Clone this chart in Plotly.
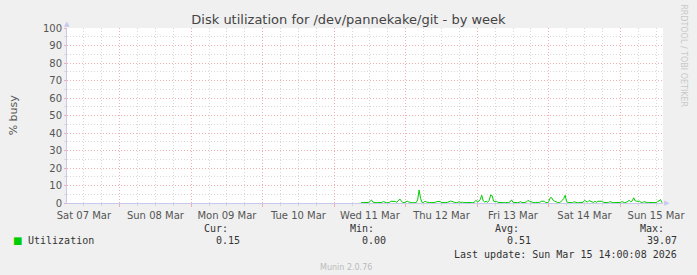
import pandas as pd
import plotly.graph_objects as go

# ---------------- data ----------------
TITLE = "Disk utilization for /dev/pannekake/git - by week"
Y_LABEL = "% busy"
SERIES_NAME = "Utilization"
SERIES_START = "2026-03-11 09:00"   # first known sample (30 min resolution)
STEP = "30min"
utilization = [
    0.2, 0.2, 0.2, 0.3, 0.2, 0.3, 0.9, 1.7, 0.5, 0.2,
    0.2, 0.3, 0.2, 0.2, 0.3, 0.8, 0.3, 0.2, 0.2, 0.3,
    1.0, 1.1, 1.0, 0.9, 0.4, 1.5, 2.3, 1.2, 0.3, 0.2,
    0.4, 1.0, 0.6, 0.3, 0.2, 0.2, 0.3, 0.2, 1.8, 7.4,
    2.5, 0.3, 0.4, 1.0, 0.5, 0.2, 0.3, 0.2, 0.2, 0.3,
    0.4, 0.8, 1.0, 0.9, 0.3, 0.2, 0.3, 0.2, 0.4, 1.0,
    1.1, 0.9, 0.4, 0.3, 0.2, 0.3, 0.7, 0.3, 0.5, 0.2,
    0.3, 0.2, 0.3, 0.2, 0.3, 0.2, 0.4, 1.5, 0.8, 1.0,
    2.0, 4.4, 1.2, 0.6, 1.0, 0.4, 1.5, 4.6, 4.2, 1.0,
    1.0, 0.9, 0.3, 0.2, 0.3, 0.2, 0.2, 0.3, 0.2, 0.3,
    0.6, 1.8, 0.4, 0.2, 0.3, 0.2, 0.3, 0.8, 0.3, 0.2,
    0.3, 0.6, 1.5, 1.0, 0.7, 0.3, 0.2, 0.3, 0.2, 0.3,
    0.4, 1.0, 0.9, 1.0, 0.3, 0.2, 0.8, 3.0, 3.0, 1.5,
    1.0, 0.4, 0.3, 0.2, 0.6, 1.5, 2.5, 4.4, 0.8, 0.3,
    0.2, 0.3, 0.2, 0.7, 0.3, 0.2, 0.2, 0.3, 0.2, 0.4,
    1.5, 1.0, 0.5, 1.4, 1.0, 0.4, 0.3, 1.0, 0.3, 1.0,
    1.1, 0.9, 1.0, 0.3, 0.2, 0.3, 0.2, 0.8, 0.3, 0.2,
    0.3, 0.2, 0.3, 0.2, 0.3, 0.8, 0.3, 0.2, 0.4, 0.9,
    1.5, 0.7, 1.2, 3.0, 1.2, 1.0, 0.9, 1.0, 0.3, 0.2,
    0.8, 0.3, 0.2, 0.3, 0.2, 0.3, 0.2, 0.3, 0.2, 0.9,
    1.2, 2.0, 0.15,
]
X_RANGE = ["2026-03-07 06:20", "2026-03-15 14:20"]
Y_RANGE = [0, 100]
stat_labels = ["Cur:", "Min:", "Avg:", "Max:"]
stat_values = ["0.15", "0.00", "0.51", "39.07"]
LAST_UPDATE = "Last update: Sun Mar 15 14:00:08 2026"
FOOTER = "Munin 2.0.76"
SIDE_TEXT = "RRDTOOL / TOBI OETIKER"

# ---------------- style ----------------
W, H = 697, 275
L, R, T, B = 67, 667, 28, 203
GREEN = "#00CC00"
MAJOR = "#F0B0B0"
MINOR = "#D8D8D8"
AXIS = "#C8C8EE"
TXT = "#555555"
SANS = "DejaVu Sans"
MONO = "DejaVu Sans Mono"


def px(x):
    return (x - L) / (R - L)


def py(y):
    return (B - y) / (B - T)


times = pd.date_range(SERIES_START, periods=len(utilization), freq=STEP)

fig = go.Figure()
fig.add_trace(go.Scatter(x=times, y=utilization, mode="lines", name=SERIES_NAME,
                         line=dict(color=GREEN, width=1), hoverinfo="skip"))

fig.update_layout(
    width=W, height=H,
    margin=dict(l=L, r=W - R, t=T, b=H - B),
    paper_bgcolor="#F0F0F0", plot_bgcolor="#FFFFFF",
    showlegend=False,
    font=dict(family=SANS, size=10, color=TXT),
    title=dict(text=TITLE, x=0.5, xanchor="center", y=1 - 19 / H, yanchor="middle",
               font=dict(family=SANS, size=13, color="#444444")),
)

fig.update_xaxes(
    type="date", range=X_RANGE,
    tick0="2026-03-07", dtick=86400000, ticklabelmode="period",
    tickformat="%a %d %b", tickfont=dict(family=SANS, size=10, color=TXT),
    showgrid=True, gridcolor=MAJOR, griddash="1px,2px", gridwidth=1,
    ticks="outside", ticklen=3, tickcolor=MAJOR,
    minor=dict(dtick=6 * 3600 * 1000, tick0="2026-03-07", showgrid=True,
               gridcolor=MINOR, griddash="1px,2px", gridwidth=1,
               ticks="outside", ticklen=2, tickcolor=MINOR),
    showline=True, linecolor=AXIS, linewidth=1, zeroline=False,
)
fig.update_yaxes(
    range=Y_RANGE, dtick=10, tick0=0,
    tickfont=dict(family=SANS, size=10, color=TXT),
    showgrid=True, gridcolor=MAJOR, griddash="1px,2px", gridwidth=1,
    ticks="outside", ticklen=2, tickcolor=MAJOR,
    minor=dict(dtick=5, showgrid=True, gridcolor=MINOR, griddash="1px,2px",
               gridwidth=1, ticks="outside", ticklen=2, tickcolor=MINOR),
    showline=True, linecolor=AXIS, linewidth=1, zeroline=False,
)

ann = []
ann.append(dict(text=Y_LABEL, x=px(13), y=py(115), textangle=-90,
                font=dict(family=SANS, size=11, color=TXT)))
ann.append(dict(text=SIDE_TEXT, x=px(688), y=py(56), textangle=90,
                font=dict(family=SANS, size=8, color="#C8C8C8")))
# axis arrows
ann.append(dict(text="▲", x=px(67), y=py(24), font=dict(size=7, color=AXIS)))
ann.append(dict(text="▶", x=px(671), y=py(203), font=dict(size=7, color=AXIS)))
# legend
ann.append(dict(text="■", x=px(17), y=py(240), font=dict(family=SANS, size=10, color=GREEN)))
ann.append(dict(text=SERIES_NAME, x=px(26), y=py(240), xanchor="left",
                font=dict(family=MONO, size=10, color="#333333")))
label_right = [231, 378, 524, 670]
value_right = [243, 390, 536, 683]
for lab, val, lr, vr in zip(stat_labels, stat_values, label_right, value_right):
    ann.append(dict(text=lab, x=px(lr), y=py(228), xanchor="right",
                    font=dict(family=MONO, size=10, color="#333333")))
    ann.append(dict(text=val, x=px(vr), y=py(240), xanchor="right",
                    font=dict(family=MONO, size=10, color="#333333")))
ann.append(dict(text=LAST_UPDATE, x=px(683), y=py(254), xanchor="right",
                font=dict(family=MONO, size=10, color="#333333")))
ann.append(dict(text=FOOTER, x=px(348), y=py(267),
                font=dict(family=SANS, size=8, color="#BBBBBB")))

for a in ann:
    a.setdefault("xanchor", "center")
    a.update(xref="paper", yref="paper", yanchor="middle", showarrow=False)
fig.update_layout(annotations=ann)

fig.write_html("out.html")
